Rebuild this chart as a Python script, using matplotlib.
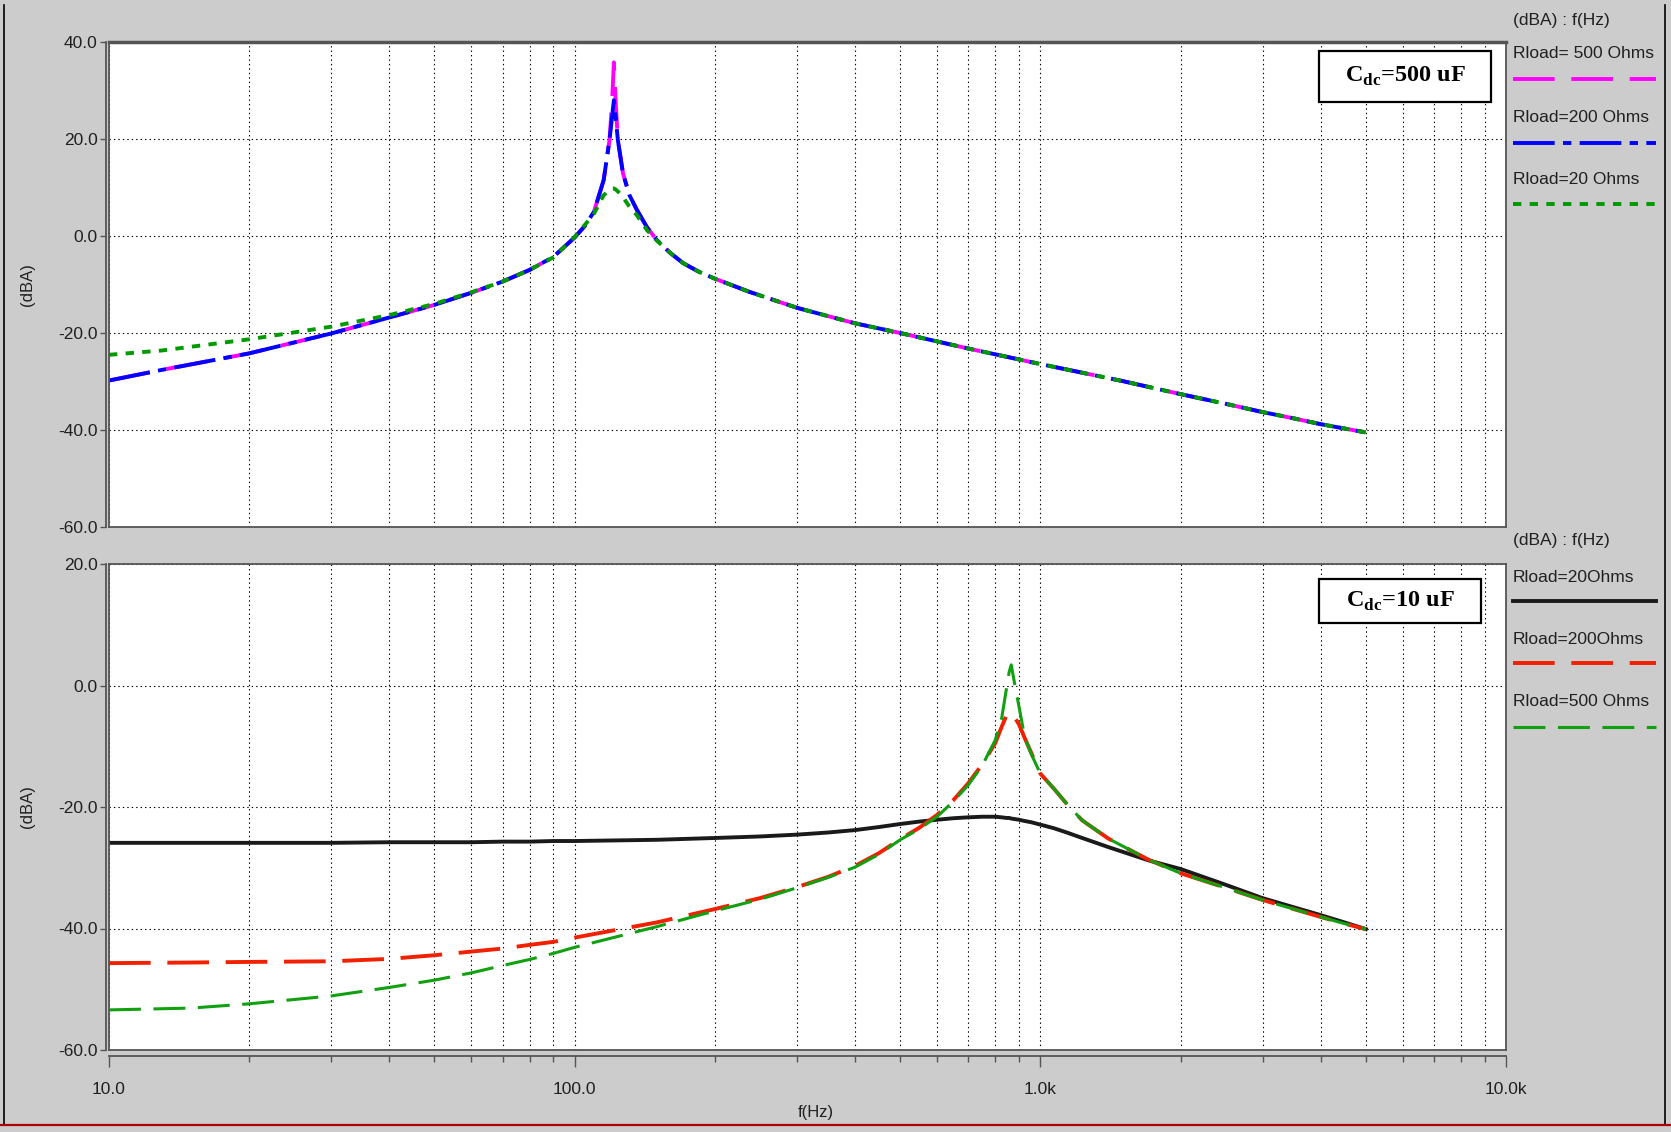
import matplotlib
matplotlib.use("Agg")
import matplotlib.pyplot as plt
from matplotlib.lines import Line2D
from matplotlib.patches import Rectangle
from matplotlib.ticker import FixedLocator, LogLocator, NullFormatter

plt.rcParams['font.family'] = ['Liberation Sans', 'DejaVu Sans']
plt.rcParams['lines.scale_dashes'] = False
plt.rcParams['mathtext.fontset'] = 'custom'
plt.rcParams['mathtext.rm'] = 'Liberation Serif:bold'
plt.rcParams['mathtext.bf'] = 'Liberation Serif:bold'

# upper plot, Cdc = 500 uF
freq_500uF = [10, 13, 20, 30, 40, 50, 60, 70, 80, 90, 100, 105, 110, 115.4, 118.8,
              120.3, 121.4, 122.5, 123.8, 127, 131, 136, 143, 150, 160, 171, 185,
              200, 237, 300, 400, 500, 700, 1000, 1500, 2000, 2500, 3000, 3500,
              4000, 5000]
db_500ohm = [-29.8, -27.6, -24.2, -20.1, -16.8, -14.2, -11.7, -9.4, -7.0, -4.3, -0.3,
             2.0, 5.0, 11.5, 19.8, 27.5, 35.8, 27.5, 19.8, 12.9, 8.5, 5.4, 1.8, -0.8,
             -3.4, -5.6, -7.4, -8.8, -11.5, -14.8, -18.0, -20.0, -23.2, -26.4, -29.9,
             -32.6, -34.6, -36.3, -37.6, -38.8, -40.5]
db_200ohm = [-29.8, -27.6, -24.2, -20.1, -16.8, -14.2, -11.7, -9.4, -7.0, -4.3, -0.3,
             2.0, 5.0, 11.5, 19.8, 24.5, 28.0, 24.5, 19.8, 12.9, 8.5, 5.4, 1.8, -0.8,
             -3.4, -5.6, -7.4, -8.8, -11.5, -14.8, -18.0, -20.0, -23.2, -26.4, -29.9,
             -32.6, -34.6, -36.3, -37.6, -38.8, -40.5]
db_20ohm = [-24.5, -23.6, -21.3, -18.7, -16.3, -14.0, -11.6, -9.4, -7.0, -4.4, -0.2,
            2.2, 4.6, 8.4, 9.5, 9.8, 9.8, 9.6, 9.2, 8.0, 6.1, 4.3, 1.2, -0.9,
            -3.4, -5.6, -7.4, -8.8, -11.5, -14.8, -18.0, -20.0, -23.2, -26.4, -29.9,
            -32.6, -34.6, -36.3, -37.6, -38.8, -40.5]

# lower plot, Cdc = 10 uF
freq_10uF = [10, 15, 20, 30, 40, 50, 60, 70, 80, 90, 100, 150, 200, 250, 300, 350,
             400, 450, 500, 550, 600, 650, 700, 750, 800, 826, 845, 857, 866, 883,
             900, 925, 955, 1000, 1070, 1140, 1230, 1400, 1710, 2000, 2500, 3000,
             3500, 4000, 4500, 5000]
db_r20 = [-25.9, -25.9, -25.9, -25.9, -25.8, -25.8, -25.8, -25.7, -25.7, -25.6, -25.6,
          -25.4, -25.1, -24.85, -24.55, -24.2, -23.8, -23.3, -22.8, -22.4, -22.1,
          -21.85, -21.7, -21.6, -21.6, -21.7, -21.8, -21.8, -21.9, -22.0, -22.1,
          -22.3, -22.5, -22.9, -23.5, -24.2, -25.1, -26.6, -28.8, -30.2, -32.8,
          -35.0, -36.5, -37.8, -39.0, -40.1]
db_r200 = [-45.7, -45.6, -45.5, -45.4, -45.0, -44.4, -43.8, -43.3, -42.7, -42.2, -41.5,
           -39.0, -36.8, -35.0, -33.2, -31.5, -29.7, -27.6, -25.3, -23.4, -21.3,
           -18.9, -16.1, -13.0, -9.5, -6.8, -5.0, -4.3, -4.5, -5.4, -6.4, -8.6,
           -11.0, -14.5, -17.0, -19.5, -22.2, -25.2, -28.7, -30.9, -33.3, -35.3,
           -36.8, -38.1, -39.2, -40.1]
db_r500 = [-53.4, -53.1, -52.4, -51.1, -49.7, -48.5, -47.3, -46.1, -45.1, -44.1, -43.1,
           -39.7, -37.1, -35.2, -33.3, -31.6, -29.9, -27.8, -25.4, -23.6, -21.6,
           -19.1, -16.4, -13.2, -9.0, -5.4, -0.7, 2.2, 3.4, -0.2, -3.5, -8.4,
           -11.2, -14.5, -17.0, -19.5, -22.2, -25.2, -28.7, -30.9, -33.3, -35.3,
           -36.8, -38.1, -39.2, -40.1]

xticks = [10, 100, 1000, 10000]
xtick_labels = ['10.0', '100.0', '1.0k', '10.0k']
top_yticks = [40, 20, 0, -20, -40, -60]
bot_yticks = [20, 0, -20, -40, -60]

W, H = 1671, 1132
def fx(px):
    return px / W
def fy(py):
    return 1 - py / H

fig = plt.figure(figsize=(W / 100, H / 100), dpi=100, facecolor='#cccccc')

ax1 = fig.add_axes([fx(109), fy(527), fx(1506) - fx(109), 485 / H])
ax2 = fig.add_axes([fx(109), fy(1050), fx(1506) - fx(109), 486 / H])

frame_col = '#555555'
txt_col = '#202020'
grid_style = dict(color='black', lw=0.8, linestyle=(0, (1, 2.2)))

for ax, yt in [(ax1, top_yticks), (ax2, bot_yticks)]:
    ax.set_xscale('log')
    ax.set_xlim(10, 10000)
    ax.set_ylim(min(yt), max(yt))
    ax.set_yticks(yt)
    ax.set_yticklabels(['%.1f' % v for v in yt])
    ax.xaxis.set_major_locator(FixedLocator(xticks))
    ax.xaxis.set_minor_locator(LogLocator(base=10, subs=range(2, 10)))
    ax.xaxis.set_minor_formatter(NullFormatter())
    ax.grid(True, which='both', axis='x', **grid_style)
    ax.grid(True, which='major', axis='y', **grid_style)
    ax.set_axisbelow(True)
    for s in ['top', 'right', 'left', 'bottom']:
        ax.spines[s].set_color(frame_col)
        ax.spines[s].set_linewidth(1.3)
    ax.spines['left'].set_position(('outward', 2.2))
    # plot frame on the left, the spine is offset like the original
    ax.plot([0, 0], [0, 1], transform=ax.transAxes, color=frame_col, lw=1.3,
            clip_on=False, zorder=5)
    ax.tick_params(axis='y', direction='out', length=4, width=1, color=frame_col,
                   labelsize=12.5, labelcolor=txt_col, pad=2)

ax1.spines['top'].set_linewidth(2.5)
ax1.tick_params(axis='x', which='both', length=0, labelbottom=False)

ax2.spines['bottom'].set_position(('outward', 4.3))
ax2.plot([0, 1], [0, 0], transform=ax2.transAxes, color=frame_col, lw=1.3,
         clip_on=False, zorder=5)
ax2.set_xticklabels(xtick_labels)
ax2.tick_params(axis='x', which='major', direction='out', length=8, width=1,
                color=frame_col, labelsize=12.5, labelcolor=txt_col, pad=11)
ax2.tick_params(axis='x', which='minor', direction='out', length=4.5, width=1,
                color=frame_col)

# curves
mag_style = dict(color='#ff00ff', lw=2.8, linestyle=(0, (30, 12)))
blue_style = dict(color='#0000ff', lw=2.8, linestyle=(0, (30, 6, 6, 6)))
g_top_style = dict(color='#009a00', lw=2.8, linestyle=(0, (6, 6)))
black_style = dict(color='#1a1a1a', lw=2.8, linestyle='-')
red_style = dict(color='#f02000', lw=2.8, linestyle=(0, (30, 12)))
g_bot_style = dict(color='#10a010', lw=2.2, linestyle=(0, (23, 9)))

ax1.plot(freq_500uF, db_500ohm, **mag_style)
ax1.plot(freq_500uF, db_200ohm, **blue_style)
ax1.plot(freq_500uF, db_20ohm, **g_top_style)

ax2.plot(freq_10uF, db_r20, **black_style)
ax2.plot(freq_10uF, db_r200, **red_style)
ax2.plot(freq_10uF, db_r500, **g_bot_style)

# axis labels
fig.text(fx(27), fy(285), '(dBA)', rotation=90, ha='center', va='center',
         fontsize=12, color=txt_col)
fig.text(fx(27), fy(807), '(dBA)', rotation=90, ha='center', va='center',
         fontsize=12, color=txt_col)
fig.text(fx(816), fy(1112), 'f(Hz)', ha='center', va='center', fontsize=12,
         color=txt_col)

# Cdc boxes
def cdc_box(x0, y0, x1, y1, label):
    fig.add_artist(Rectangle((fx(x0), fy(y1)), fx(x1) - fx(x0), fy(y0) - fy(y1),
                             transform=fig.transFigure, facecolor='white',
                             edgecolor='black', lw=1.6, zorder=10))
    fig.text(fx((x0 + x1) / 2), fy((y0 + y1) / 2), label, ha='center', va='center',
             fontsize=17.5, family='Liberation Serif', weight='bold', zorder=11)

cdc_box(1319, 51, 1491, 102, r'C$_{\mathrm{dc}}$=500 uF')
cdc_box(1319, 579, 1481, 623, r'C$_{\mathrm{dc}}$=10 uF')

# legend panels on the right
def legend_panel(y_head, entries):
    fig.text(fx(1513), fy(y_head), '(dBA) : f(Hz)', va='center', fontsize=12.5,
             color=txt_col)
    for ytxt, ylin, name, st in entries:
        fig.text(fx(1513), fy(ytxt), name, va='center', fontsize=12.5,
                 color=txt_col)
        fig.add_artist(Line2D([fx(1513), fx(1656)], [fy(ylin), fy(ylin)],
                              transform=fig.transFigure, **st))

legend_panel(20, [(54, 79, 'Rload= 500 Ohms', mag_style),
                  (117, 143, 'Rload=200 Ohms', blue_style),
                  (180, 204, 'Rload=20 Ohms', g_top_style)])
legend_panel(540, [(577, 601, 'Rload=20Ohms', black_style),
                   (639, 663, 'Rload=200Ohms', red_style),
                   (702, 727, 'Rload=500 Ohms', g_bot_style)])

# window borders
fig.add_artist(Line2D([fx(4), fx(4)], [fy(5), fy(1125)], transform=fig.transFigure,
                      color='black', lw=1.2))
fig.add_artist(Line2D([fx(1665), fx(1665)], [fy(5), fy(1125)],
                      transform=fig.transFigure, color='black', lw=1.2))
fig.add_artist(Line2D([0, 1], [fy(1125), fy(1125)], transform=fig.transFigure,
                      color='#b00000', lw=1.6))

fig.savefig('out.png', dpi=100, facecolor=fig.get_facecolor())
